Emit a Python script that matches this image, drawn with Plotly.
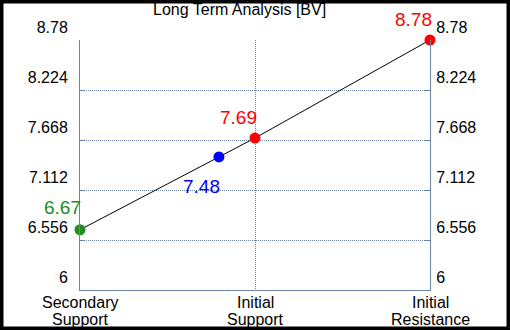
import plotly.graph_objects as go

# ---- data ----
title_text = "Long Term Analysis [BV]"
categories = ["Secondary Support", "Initial Support", "Initial Resistance"]
cat_pos = [0, 1, 2]
line_y = [6.67, 7.69, 8.78]
point_x = [0, 0.794, 1, 2]
point_y = [6.67, 7.48, 7.69, 8.78]
point_labels = ["6.67", "7.48", "7.69", "8.78"]
point_colors = ["#228b22", "#0000ff", "#ff0000", "#ff0000"]
y_ticks = [6, 6.556, 7.112, 7.668, 8.224, 8.78]
y_ticktext = ["6", "6.556", "7.112", "7.668", "8.224", "8.78"]

# label offsets (px) relative to each point
label_dx = [-18, -17, -17, -17]
label_dy = [-22, 30, -21, -21]

AXIS_COLOR = "#6e84a3"
GRID_COLOR = "#6e84a3"
FONT = "Liberation Sans, Arial, sans-serif"

fig = go.Figure()
fig.add_trace(go.Scatter(x=cat_pos, y=line_y, mode="lines",
                         line=dict(color="black", width=1),
                         hoverinfo="skip", showlegend=False))
fig.add_trace(go.Scatter(x=point_x, y=point_y, mode="markers",
                         marker=dict(color=point_colors, size=11),
                         cliponaxis=False, showlegend=False))
# invisible trace for the right axis
fig.add_trace(go.Scatter(x=[cat_pos[0]], y=[y_ticks[0]], yaxis="y2",
                         mode="markers", marker=dict(opacity=0),
                         showlegend=False, hoverinfo="skip"))

annotations = []
for x, y, t, c, dx, dy in zip(point_x, point_y, point_labels, point_colors, label_dx, label_dy):
    annotations.append(dict(x=x, y=y, xref="x", yref="y", text=t, showarrow=False,
                            font=dict(color=c, size=19, family=FONT),
                            xshift=dx, yshift=-dy))

# x category labels (two lines each)
for x, cat in zip(cat_pos, categories):
    first, second = cat.split(" ", 1)
    annotations.append(dict(x=x, y=0, xref="x", yref="paper", text=first, showarrow=False,
                            font=dict(color="black", size=16, family=FONT),
                            yanchor="middle", yshift=-12))
    annotations.append(dict(x=x, y=0, xref="x", yref="paper", text=second, showarrow=False,
                            font=dict(color="black", size=16, family=FONT),
                            yanchor="middle", yshift=-29))

annotations.append(dict(x=(239 - 80) / 350, y=1 + 30 / 250, xref="paper", yref="paper",
                        text=title_text, showarrow=False, yanchor="middle",
                        font=dict(color="black", size=16, family=FONT)))

yaxis_common = dict(range=[y_ticks[0], y_ticks[-1]], tickvals=y_ticks, ticktext=y_ticktext,
                    ticks="inside", ticklen=5, tickcolor=AXIS_COLOR,
                    showline=True, linecolor=AXIS_COLOR, linewidth=1,
                    zeroline=False, ticklabelshift=-13,
                    tickfont=dict(size=16, color="black", family=FONT))

fig.update_layout(
    width=510, height=330,
    margin=dict(l=80, r=80, t=40, b=40),
    paper_bgcolor="white", plot_bgcolor="white",
    showlegend=False,
    xaxis=dict(range=[0, 2], tickvals=cat_pos, showticklabels=False,
               showgrid=True, gridcolor=GRID_COLOR, griddash="1px,1px", gridwidth=1,
               showline=True, linecolor=AXIS_COLOR, linewidth=1, zeroline=False,
               ticks=""),
    yaxis=dict(**yaxis_common, showgrid=True, gridcolor=GRID_COLOR, griddash="1px,1px",
               gridwidth=1, side="left", ticklabelstandoff=8),
    yaxis2=dict(**yaxis_common, showgrid=False, overlaying="y", side="right",
                ticklabelstandoff=2),
    annotations=annotations,
    shapes=[dict(type="rect", xref="paper", yref="paper",
                 x0=-80 / 350, x1=430 / 350, y0=-40 / 250, y1=290 / 250,
                 line=dict(color="black", width=7), fillcolor="rgba(0,0,0,0)")],
)

fig.write_html("out.html", config={"displayModeBar": False},
               post_script="document.body.style.margin='0';")
